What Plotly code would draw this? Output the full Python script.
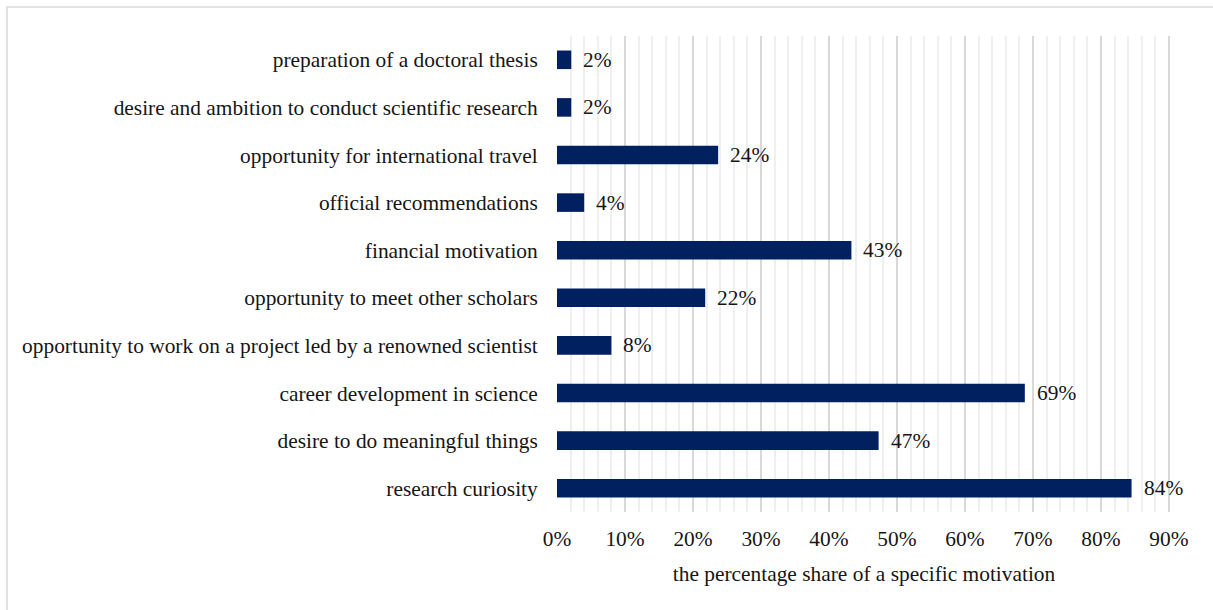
import plotly.graph_objects as go

categories = [
    "research curiosity",
    "desire to do meaningful things",
    "career development in science",
    "opportunity to work on a project led by a renowned scientist",
    "opportunity to meet other scholars",
    "financial motivation",
    "official recommendations",
    "opportunity for international travel",
    "desire and ambition to conduct scientific research",
    "preparation of a doctoral thesis",
]
values = [84.5, 47.3, 68.8, 8.0, 21.8, 43.3, 4.0, 23.7, 2.1, 2.1]
labels = ["84%", "47%", "69%", "8%", "22%", "43%", "4%", "24%", "2%", "2%"]
tick_vals = [0, 10, 20, 30, 40, 50, 60, 70, 80, 90]
tick_text = ["0%", "10%", "20%", "30%", "40%", "50%", "60%", "70%", "80%", "90%"]

FONT = "Liberation Serif, Times New Roman, serif"
FS = 21.4
TXT = "#151515"
W, H = 1213, 610
ML, MR, MT, MB = 557, 42, 36, 98
PW, PH = W - ML - MR, H - MT - MB

fig = go.Figure()
fig.add_trace(go.Bar(
    x=values, y=categories, orientation="h",
    marker=dict(color="#002060", line=dict(width=0)),
    width=0.39, hoverinfo="skip",
))

for v, c, t in zip(values, categories, labels):
    fig.add_annotation(x=v, y=c, text=t, showarrow=False, xanchor="left",
                       xshift=10, font=dict(family=FONT, size=FS, color=TXT))

def px_x(p):
    return (p - ML) / PW

def px_y(p):
    return 1 - (p - MT) / PH

fig.add_shape(type="rect", xref="paper", yref="paper",
              x0=px_x(7), x1=px_x(W + 20), y0=px_y(7), y1=px_y(H + 20),
              line=dict(color="#d9d9d9", width=1.5), fillcolor="rgba(0,0,0,0)", layer="below")

fig.update_layout(
    width=W, height=H,
    margin=dict(l=ML, r=MR, t=MT, b=MB, pad=0),
    plot_bgcolor="white", paper_bgcolor="white",
    showlegend=False,
    font=dict(family=FONT, size=FS, color=TXT),
)
fig.update_xaxes(
    range=[0, 90.3], tickvals=tick_vals, ticktext=tick_text,
    showgrid=True, gridcolor="#d9d9d9", gridwidth=1.5,
    minor=dict(dtick=2, tick0=0, showgrid=True, gridcolor="#efefef", gridwidth=1.5),
    zeroline=False, showline=False, ticks="outside", ticklen=7, tickcolor="rgba(0,0,0,0)",
    tickfont=dict(family=FONT, size=FS, color=TXT),
    title=dict(text="the percentage share of a specific motivation", standoff=16,
               font=dict(family=FONT, size=FS, color=TXT)),
    fixedrange=True,
)
fig.update_yaxes(
    showgrid=False, zeroline=False, showline=False,
    ticks="outside", ticklen=14, tickcolor="rgba(0,0,0,0)",
    tickfont=dict(family=FONT, size=FS, color=TXT),
    range=[-0.5, 9.5], fixedrange=True,
)
fig.write_html("out.html")
